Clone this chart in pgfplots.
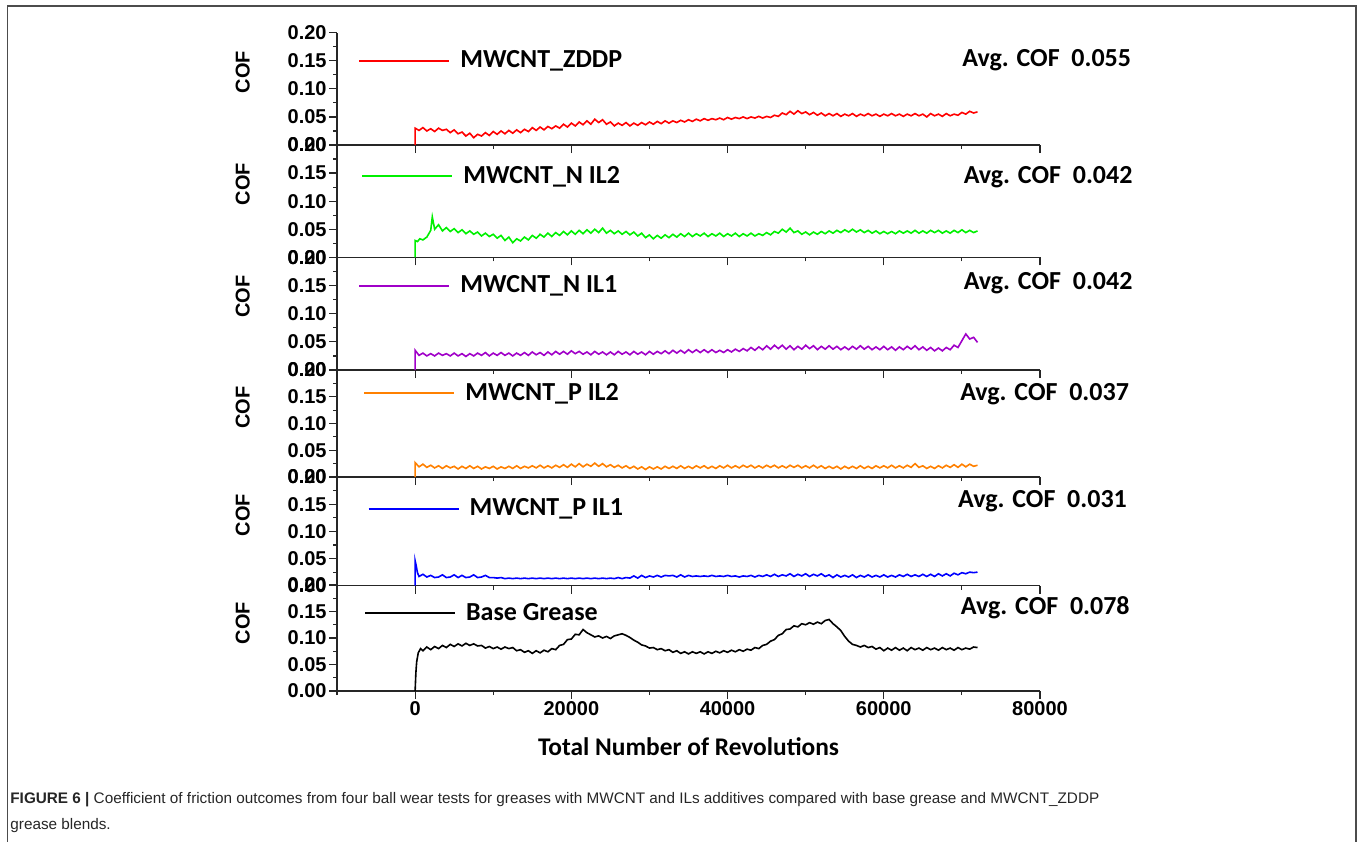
\documentclass[border=0pt]{standalone}
\usepackage{pgfplots}
\pgfplotsset{compat=1.18}
\usepackage{fontspec}
\setmainfont{Liberation Sans}
\newfontfamily\calfont{Carlito}

\definecolor{cred}{RGB}{255,0,0}
\definecolor{cgreen}{RGB}{0,240,0}
\definecolor{cpurple}{RGB}{160,0,200}
\definecolor{corange}{RGB}{255,128,0}
\definecolor{cblue}{RGB}{0,0,255}

\newcommand{\tickfont}{\fontsize{10}{12}\selectfont\bfseries}
\newcommand{\legfont}{\calfont\fontsize{13}{15}\selectfont\bfseries}
\newcommand{\avgfont}{\calfont\fontsize{13}{15}\selectfont\bfseries}

\pgfplotsset{
  panel/.style={
    scale only axis, width=351.5pt, anchor=south west,
    xmin=-10000, xmax=80000, ymin=0, ymax=0.2,
    axis x line*=bottom, axis y line*=left,
    axis line style={line width=0.6pt, black!85},
    every tick/.style={line width=0.6pt, black!85},
    tick align=outside, major tick length=4pt, minor tick length=2pt,
    xtick={0,20000,40000,60000,80000},
    minor xtick={-10000,10000,30000,50000,70000},
    ytick={0,0.05,0.1,0.15,0.2},
    minor ytick={0.025,0.075,0.125,0.175},
    xticklabels={},
    scaled y ticks=false, scaled x ticks=false,
    /pgf/number format/assume math mode=true,
    yticklabel style={/pgf/number format/.cd, fixed, fixed zerofill, precision=2, /tikz/.cd, font=\tickfont, inner sep=1pt},
    xticklabel style={font=\tickfont, inner sep=1pt},
    clip=false,
    legend style={draw=none, fill=none, anchor=west, font=\legfont, inner sep=0pt,
      nodes={inner xsep=0pt}, column sep=5pt},
    legend image code/.code={\draw[#1, line width=1pt] (0pt,0pt) -- (45pt,0pt);},
    every axis plot/.append style={line width=0.8pt},
  }
}

\begin{document}
\begin{tikzpicture}
\path[use as bounding box] (0,0) rectangle (679pt,-420.5pt);
\draw[gray!60!black, line width=0.8pt] (3.65pt,-421pt) -- (3.65pt,-3pt) -- (677.85pt,-3pt) -- (677.85pt,-421pt);

% panel 1
\begin{axis}[panel, at={(168.5pt,-72.5pt)}, height=56.15pt,
  legend style={at={(0.030,0.75)}}]
\addplot[cred] coordinates {(0,0)(0,0.030)(500,0.026)(1000,0.031)(1500,0.025)(2000,0.029)(2500,0.024)(3000,0.030)(3500,0.026)(4000,0.028)(4500,0.022)(5000,0.027)(5500,0.020)(6000,0.023)(6500,0.016)(7000,0.021)(7500,0.013)(8000,0.019)(8500,0.016)(9000,0.022)(9500,0.017)(10000,0.024)(10500,0.019)(11000,0.025)(11500,0.020)(12000,0.026)(12500,0.021)(13000,0.027)(13500,0.022)(14000,0.028)(14500,0.024)(15000,0.031)(15500,0.026)(16000,0.032)(16500,0.027)(17000,0.033)(17500,0.029)(18000,0.034)(18500,0.030)(19000,0.037)(19500,0.032)(20000,0.039)(20500,0.034)(21000,0.041)(21500,0.036)(22000,0.043)(22500,0.037)(23000,0.046)(23500,0.040)(24000,0.045)(24500,0.037)(25000,0.041)(25500,0.034)(26000,0.039)(26500,0.035)(27000,0.040)(27500,0.034)(28000,0.039)(28500,0.035)(29000,0.040)(29500,0.036)(30000,0.041)(30500,0.037)(31000,0.042)(31500,0.038)(32000,0.043)(32500,0.039)(33000,0.043)(33500,0.040)(34000,0.044)(34500,0.041)(35000,0.045)(35500,0.042)(36000,0.046)(36500,0.043)(37000,0.047)(37500,0.044)(38000,0.047)(38500,0.045)(39000,0.048)(39500,0.045)(40000,0.049)(40500,0.046)(41000,0.049)(41500,0.047)(42000,0.050)(42500,0.047)(43000,0.050)(43500,0.048)(44000,0.051)(44500,0.048)(45000,0.051)(45500,0.049)(46000,0.053)(46500,0.051)(47000,0.057)(47500,0.054)(48000,0.060)(48500,0.055)(49000,0.061)(49500,0.056)(50000,0.059)(50500,0.054)(51000,0.058)(51500,0.053)(52000,0.057)(52500,0.052)(53000,0.056)(53500,0.052)(54000,0.056)(54500,0.051)(55000,0.055)(55500,0.052)(56000,0.056)(56500,0.051)(57000,0.055)(57500,0.052)(58000,0.056)(58500,0.052)(59000,0.055)(59500,0.051)(60000,0.055)(60500,0.052)(61000,0.056)(61500,0.052)(62000,0.055)(62500,0.051)(63000,0.055)(63500,0.052)(64000,0.056)(64500,0.052)(65000,0.055)(65500,0.050)(66000,0.056)(66500,0.052)(67000,0.055)(67500,0.051)(68000,0.056)(68500,0.052)(69000,0.055)(69500,0.053)(70000,0.058)(70500,0.055)(71000,0.060)(71500,0.057)(72000,0.059)};
\addlegendentry{MWCNT\_ZDDP}
\node[rotate=90, font=\fontsize{10}{12}\selectfont\bfseries, inner sep=0pt] at (rel axis cs:-0.134,0.65) {COF};
\node[anchor=west, font=\avgfont, inner sep=0pt] at (rel axis cs:0.889,0.757) {Avg. COF\ \ 0.055};
\end{axis}

% panel 2
\begin{axis}[panel, at={(168.5pt,-128.65pt)}, height=56.15pt,
  legend style={at={(0.034,0.724)}}]
\addplot[cgreen] coordinates {(0,0)(0,0.030)(300,0.028)(600,0.033)(1000,0.031)(1500,0.036)(2000,0.048)(2200,0.072)(2500,0.050)(3000,0.058)(3500,0.047)(4000,0.053)(4500,0.046)(5000,0.051)(5500,0.044)(6000,0.049)(6500,0.042)(7000,0.047)(7500,0.041)(8000,0.045)(8500,0.038)(9000,0.043)(9500,0.037)(10000,0.041)(10500,0.034)(11000,0.039)(11500,0.030)(12000,0.036)(12500,0.026)(13000,0.033)(13500,0.029)(14000,0.036)(14500,0.031)(15000,0.039)(15500,0.034)(16000,0.041)(16500,0.036)(17000,0.043)(17500,0.037)(18000,0.044)(18500,0.039)(19000,0.046)(19500,0.040)(20000,0.047)(20500,0.041)(21000,0.048)(21500,0.042)(22000,0.049)(22500,0.043)(23000,0.050)(23500,0.044)(24000,0.052)(24500,0.043)(25000,0.048)(25500,0.042)(26000,0.047)(26500,0.041)(27000,0.046)(27500,0.040)(28000,0.045)(28500,0.038)(29000,0.043)(29500,0.035)(30000,0.040)(30500,0.033)(31000,0.039)(31500,0.034)(32000,0.040)(32500,0.035)(33000,0.041)(33500,0.036)(34000,0.042)(34500,0.037)(35000,0.043)(35500,0.037)(36000,0.042)(36500,0.038)(37000,0.043)(37500,0.037)(38000,0.042)(38500,0.038)(39000,0.043)(39500,0.037)(40000,0.042)(40500,0.038)(41000,0.043)(41500,0.037)(42000,0.042)(42500,0.038)(43000,0.043)(43500,0.038)(44000,0.042)(44500,0.039)(45000,0.044)(45500,0.040)(46000,0.046)(46500,0.043)(47000,0.050)(47500,0.045)(48000,0.052)(48500,0.044)(49000,0.047)(49500,0.041)(50000,0.045)(50500,0.040)(51000,0.045)(51500,0.041)(52000,0.046)(52500,0.042)(53000,0.047)(53500,0.043)(54000,0.048)(54500,0.044)(55000,0.049)(55500,0.045)(56000,0.050)(56500,0.045)(57000,0.049)(57500,0.044)(58000,0.048)(58500,0.043)(59000,0.047)(59500,0.042)(60000,0.046)(60500,0.042)(61000,0.046)(61500,0.042)(62000,0.047)(62500,0.043)(63000,0.047)(63500,0.043)(64000,0.048)(64500,0.043)(65000,0.047)(65500,0.043)(66000,0.048)(66500,0.044)(67000,0.048)(67500,0.043)(68000,0.047)(68500,0.043)(69000,0.048)(69500,0.044)(70000,0.049)(70500,0.044)(71000,0.048)(71500,0.044)(72000,0.047)};
\addlegendentry{MWCNT\_N IL2}
\node[rotate=90, font=\fontsize{10}{12}\selectfont\bfseries, inner sep=0pt] at (rel axis cs:-0.134,0.65) {COF};
\node[anchor=west, font=\avgfont, inner sep=0pt] at (rel axis cs:0.891,0.715) {Avg. COF\ \ 0.042};
\end{axis}

% panel 3
\begin{axis}[panel, at={(168.5pt,-185pt)}, height=56.35pt,
  legend style={at={(0.030,0.748)}}]
\addplot[cpurple] coordinates {(0,0)(0,0.035)(500,0.026)(1000,0.030)(1500,0.025)(2000,0.029)(2500,0.025)(3000,0.030)(3500,0.026)(4000,0.029)(4500,0.025)(5000,0.030)(5500,0.025)(6000,0.029)(6500,0.024)(7000,0.029)(7500,0.025)(8000,0.030)(8500,0.026)(9000,0.031)(9500,0.025)(10000,0.030)(10500,0.026)(11000,0.031)(11500,0.026)(12000,0.030)(12500,0.025)(13000,0.030)(13500,0.026)(14000,0.031)(14500,0.026)(15000,0.032)(15500,0.027)(16000,0.031)(16500,0.026)(17000,0.032)(17500,0.027)(18000,0.033)(18500,0.028)(19000,0.033)(19500,0.028)(20000,0.034)(20500,0.029)(21000,0.033)(21500,0.028)(22000,0.032)(22500,0.027)(23000,0.033)(23500,0.028)(24000,0.032)(24500,0.027)(25000,0.032)(25500,0.027)(26000,0.033)(26500,0.028)(27000,0.032)(27500,0.027)(28000,0.033)(28500,0.028)(29000,0.032)(29500,0.027)(30000,0.033)(30500,0.028)(31000,0.033)(31500,0.029)(32000,0.034)(32500,0.029)(33000,0.035)(33500,0.030)(34000,0.035)(34500,0.030)(35000,0.036)(35500,0.031)(36000,0.036)(36500,0.031)(37000,0.036)(37500,0.031)(38000,0.036)(38500,0.031)(39000,0.035)(39500,0.031)(40000,0.036)(40500,0.032)(41000,0.037)(41500,0.033)(42000,0.038)(42500,0.034)(43000,0.040)(43500,0.035)(44000,0.041)(44500,0.036)(45000,0.043)(45500,0.037)(46000,0.044)(46500,0.038)(47000,0.044)(47500,0.037)(48000,0.043)(48500,0.036)(49000,0.042)(49500,0.037)(50000,0.044)(50500,0.038)(51000,0.043)(51500,0.036)(52000,0.042)(52500,0.037)(53000,0.043)(53500,0.037)(54000,0.042)(54500,0.036)(55000,0.041)(55500,0.036)(56000,0.042)(56500,0.037)(57000,0.043)(57500,0.037)(58000,0.042)(58500,0.036)(59000,0.041)(59500,0.036)(60000,0.042)(60500,0.036)(61000,0.041)(61500,0.035)(62000,0.041)(62500,0.036)(63000,0.042)(63500,0.037)(64000,0.043)(64500,0.036)(65000,0.041)(65500,0.035)(66000,0.040)(66500,0.034)(67000,0.039)(67500,0.034)(68000,0.040)(68500,0.036)(69000,0.044)(69500,0.040)(70000,0.052)(70500,0.064)(71000,0.055)(71500,0.058)(72000,0.049)};
\addlegendentry{MWCNT\_N IL1}
\node[rotate=90, font=\fontsize{10}{12}\selectfont\bfseries, inner sep=0pt] at (rel axis cs:-0.134,0.65) {COF};
\node[anchor=west, font=\avgfont, inner sep=0pt] at (rel axis cs:0.891,0.77) {Avg. COF\ \ 0.042};
\end{axis}

% panel 4
\begin{axis}[panel, at={(168.5pt,-238.5pt)}, height=53.5pt,
  legend style={at={(0.037,0.785)}}]
\addplot[corange] coordinates {(0,0)(0,0.027)(500,0.019)(1000,0.024)(1500,0.018)(2000,0.022)(2500,0.017)(3000,0.021)(3500,0.016)(4000,0.021)(4500,0.017)(5000,0.020)(5500,0.015)(6000,0.020)(6500,0.016)(7000,0.021)(7500,0.016)(8000,0.020)(8500,0.015)(9000,0.019)(9500,0.016)(10000,0.020)(10500,0.015)(11000,0.019)(11500,0.016)(12000,0.020)(12500,0.016)(13000,0.021)(13500,0.016)(14000,0.020)(14500,0.017)(15000,0.021)(15500,0.017)(16000,0.022)(16500,0.017)(17000,0.021)(17500,0.017)(18000,0.022)(18500,0.018)(19000,0.023)(19500,0.018)(20000,0.024)(20500,0.019)(21000,0.025)(21500,0.019)(22000,0.024)(22500,0.020)(23000,0.026)(23500,0.020)(24000,0.025)(24500,0.019)(25000,0.023)(25500,0.018)(26000,0.022)(26500,0.017)(27000,0.021)(27500,0.016)(28000,0.020)(28500,0.015)(29000,0.019)(29500,0.014)(30000,0.019)(30500,0.015)(31000,0.019)(31500,0.015)(32000,0.020)(32500,0.016)(33000,0.020)(33500,0.016)(34000,0.021)(34500,0.016)(35000,0.020)(35500,0.016)(36000,0.021)(36500,0.017)(37000,0.021)(37500,0.016)(38000,0.020)(38500,0.016)(39000,0.021)(39500,0.017)(40000,0.022)(40500,0.017)(41000,0.021)(41500,0.017)(42000,0.022)(42500,0.018)(43000,0.022)(43500,0.017)(44000,0.021)(44500,0.017)(45000,0.022)(45500,0.018)(46000,0.022)(46500,0.017)(47000,0.021)(47500,0.017)(48000,0.022)(48500,0.018)(49000,0.022)(49500,0.017)(50000,0.021)(50500,0.017)(51000,0.022)(51500,0.017)(52000,0.021)(52500,0.016)(53000,0.020)(53500,0.016)(54000,0.020)(54500,0.015)(55000,0.020)(55500,0.016)(56000,0.020)(56500,0.016)(57000,0.021)(57500,0.016)(58000,0.020)(58500,0.016)(59000,0.021)(59500,0.017)(60000,0.021)(60500,0.017)(61000,0.022)(61500,0.017)(62000,0.021)(62500,0.017)(63000,0.022)(63500,0.018)(64000,0.025)(64500,0.018)(65000,0.021)(65500,0.016)(66000,0.020)(66500,0.016)(67000,0.021)(67500,0.017)(68000,0.022)(68500,0.018)(69000,0.023)(69500,0.018)(70000,0.024)(70500,0.019)(71000,0.024)(71500,0.020)(72000,0.022)};
\addlegendentry{MWCNT\_P IL2}
\node[rotate=90, font=\fontsize{10}{12}\selectfont\bfseries, inner sep=0pt] at (rel axis cs:-0.134,0.65) {COF};
\node[anchor=west, font=\avgfont, inner sep=0pt] at (rel axis cs:0.886,0.776) {Avg. COF\ \ 0.037};
\end{axis}

% panel 5
\begin{axis}[panel, at={(168.5pt,-292.85pt)}, height=54.35pt,
  legend style={at={(0.043,0.706)}}]
\addplot[cblue] coordinates {(0,0)(0,0.046)(150,0.036)(300,0.024)(500,0.017)(1000,0.021)(1500,0.016)(2000,0.019)(2500,0.015)(3000,0.016)(3500,0.020)(4000,0.015)(4500,0.016)(5000,0.020)(5500,0.015)(6000,0.019)(6500,0.015)(7000,0.016)(7500,0.020)(8000,0.015)(8500,0.016)(9000,0.019)(9500,0.015)(10000,0.015)(10500,0.014)(11000,0.015)(11500,0.013)(12000,0.014)(12500,0.013)(13000,0.014)(13500,0.013)(14000,0.014)(14500,0.013)(15000,0.014)(15500,0.013)(16000,0.014)(16500,0.013)(17000,0.014)(17500,0.013)(18000,0.014)(18500,0.013)(19000,0.014)(19500,0.013)(20000,0.014)(20500,0.013)(21000,0.014)(21500,0.013)(22000,0.014)(22500,0.013)(23000,0.014)(23500,0.013)(24000,0.014)(24500,0.013)(25000,0.014)(25500,0.013)(26000,0.015)(26500,0.013)(27000,0.015)(27500,0.014)(28000,0.018)(28500,0.014)(29000,0.019)(29500,0.015)(30000,0.018)(30500,0.016)(31000,0.019)(31500,0.016)(32000,0.019)(32500,0.018)(33000,0.019)(33500,0.016)(34000,0.020)(34500,0.016)(35000,0.019)(35500,0.017)(36000,0.018)(36500,0.017)(37000,0.018)(37500,0.017)(38000,0.019)(38500,0.017)(39000,0.018)(39500,0.017)(40000,0.019)(40500,0.017)(41000,0.018)(41500,0.016)(42000,0.018)(42500,0.017)(43000,0.019)(43500,0.016)(44000,0.019)(44500,0.017)(45000,0.020)(45500,0.017)(46000,0.021)(46500,0.017)(47000,0.020)(47500,0.018)(48000,0.022)(48500,0.017)(49000,0.021)(49500,0.018)(50000,0.022)(50500,0.017)(51000,0.021)(51500,0.018)(52000,0.022)(52500,0.017)(53000,0.020)(53500,0.015)(54000,0.020)(54500,0.016)(55000,0.019)(55500,0.016)(56000,0.020)(56500,0.015)(57000,0.019)(57500,0.016)(58000,0.020)(58500,0.016)(59000,0.019)(59500,0.016)(60000,0.020)(60500,0.016)(61000,0.019)(61500,0.016)(62000,0.020)(62500,0.017)(63000,0.021)(63500,0.017)(64000,0.020)(64500,0.017)(65000,0.021)(65500,0.017)(66000,0.021)(66500,0.017)(67000,0.022)(67500,0.018)(68000,0.022)(68500,0.018)(69000,0.023)(69500,0.020)(70000,0.024)(70500,0.022)(71000,0.025)(71500,0.024)(72000,0.025)};
\addlegendentry{MWCNT\_P IL1}
\node[rotate=90, font=\fontsize{10}{12}\selectfont\bfseries, inner sep=0pt] at (rel axis cs:-0.134,0.65) {COF};
\node[anchor=west, font=\avgfont, inner sep=0pt] at (rel axis cs:0.883,0.78) {Avg. COF\ \ 0.031};
\end{axis}

% panel 6
\begin{axis}[panel, at={(168.5pt,-345.5pt)}, height=53pt,
  xticklabels={0,20000,40000,60000,80000},
  legend style={at={(0.038,0.736)}}]
\addplot[black] coordinates {(0,0)(100,0.035)(200,0.055)(400,0.072)(700,0.080)(1000,0.076)(1500,0.083)(2000,0.078)(2500,0.084)(3000,0.080)(3500,0.086)(4000,0.082)(4500,0.088)(5000,0.084)(5500,0.089)(6000,0.085)(6500,0.090)(7000,0.086)(7500,0.089)(8000,0.085)(8500,0.086)(9000,0.081)(9500,0.084)(10000,0.080)(10500,0.083)(11000,0.079)(11500,0.083)(12000,0.080)(12500,0.082)(13000,0.076)(13500,0.078)(14000,0.073)(14500,0.076)(15000,0.071)(15500,0.076)(16000,0.072)(16500,0.077)(17000,0.074)(17500,0.080)(18000,0.078)(18500,0.086)(19000,0.088)(19500,0.097)(20000,0.098)(20500,0.107)(21000,0.106)(21500,0.116)(22000,0.110)(22500,0.106)(23000,0.102)(23500,0.104)(24000,0.100)(24500,0.103)(25000,0.099)(25500,0.104)(26000,0.106)(26500,0.108)(27000,0.105)(27500,0.101)(28000,0.096)(28500,0.092)(29000,0.087)(29500,0.085)(30000,0.081)(30500,0.082)(31000,0.078)(31500,0.080)(32000,0.076)(32500,0.078)(33000,0.073)(33500,0.076)(34000,0.071)(34500,0.074)(35000,0.070)(35500,0.074)(36000,0.071)(36500,0.074)(37000,0.070)(37500,0.074)(38000,0.071)(38500,0.075)(39000,0.072)(39500,0.076)(40000,0.073)(40500,0.077)(41000,0.074)(41500,0.078)(42000,0.075)(42500,0.079)(43000,0.077)(43500,0.082)(44000,0.080)(44500,0.086)(45000,0.088)(45500,0.094)(46000,0.097)(46500,0.105)(47000,0.108)(47500,0.116)(48000,0.117)(48500,0.123)(49000,0.121)(49500,0.127)(50000,0.125)(50500,0.129)(51000,0.126)(51500,0.130)(52000,0.127)(52500,0.133)(53000,0.135)(53500,0.127)(54000,0.121)(54500,0.114)(55000,0.103)(55500,0.094)(56000,0.088)(56500,0.086)(57000,0.083)(57500,0.086)(58000,0.082)(58500,0.084)(59000,0.079)(59500,0.082)(60000,0.076)(60500,0.081)(61000,0.077)(61500,0.082)(62000,0.077)(62500,0.081)(63000,0.076)(63500,0.082)(64000,0.078)(64500,0.081)(65000,0.077)(65500,0.082)(66000,0.078)(66500,0.081)(67000,0.077)(67500,0.082)(68000,0.078)(68500,0.081)(69000,0.077)(69500,0.082)(70000,0.078)(70500,0.081)(71000,0.079)(71500,0.083)(72000,0.082)};
\addlegendentry{Base Grease}
\node[rotate=90, font=\fontsize{10}{12}\selectfont\bfseries, inner sep=0pt] at (rel axis cs:-0.134,0.64) {COF};
\node[anchor=west, font=\avgfont, inner sep=0pt] at (rel axis cs:0.887,0.79) {Avg. COF\ \ 0.078};
\end{axis}

\node[font=\calfont\fontsize{12.7}{15}\selectfont\bfseries] at (344.25pt,-373.35pt) {Total Number of Revolutions};
\node[anchor=west, inner sep=0pt, font=\fontsize{7.65}{9}\selectfont, text=black!85] at (5pt,-400pt) {\textbf{FIGURE 6 |} Coefficient of friction outcomes from four ball wear tests for greases with MWCNT and ILs additives compared with base grease and MWCNT\_ZDDP};
\node[anchor=west, inner sep=0pt, font=\fontsize{7.65}{9}\selectfont, text=black!85] at (5pt,-413pt) {grease blends.};
\end{tikzpicture}
\end{document}
